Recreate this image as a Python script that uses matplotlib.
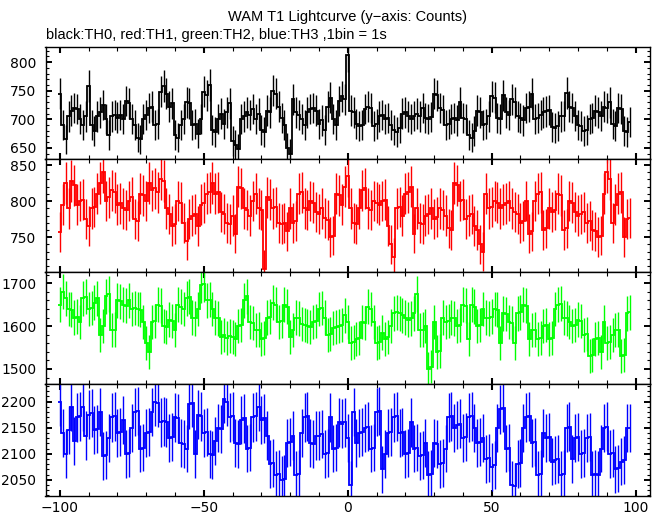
import numpy as np
import matplotlib
matplotlib.use("Agg")
import matplotlib.pyplot as plt
from matplotlib.ticker import MultipleLocator

plt.rcParams["font.family"] = ["DejaVu Sans"]

# counts per 1 s bin, time from -100 s
t_start = -100

th0 = [
    745, 690, 665, 705, 715, 720, 718, 700, 690, 705,
    758, 690, 680, 705, 712, 725, 700, 672, 705, 708,
    703, 708, 700, 732, 728, 700, 690, 668, 665, 700,
    708, 720, 722, 690, 692, 748, 758, 745, 722, 728,
    672, 668, 690, 700, 730, 728, 690, 692, 675, 700,
    748, 742, 760, 682, 678, 700, 710, 692, 712, 728,
    662, 655, 648, 700, 705, 712, 708, 718, 700, 710,
    682, 678, 715, 712, 750, 745, 722, 702, 690, 650,
    640, 735, 712, 708, 700, 690, 712, 718, 720, 715,
    692, 698, 682, 722, 738, 700, 690, 732, 740, 735,
    812, 715, 712, 692, 688, 690, 718, 722, 720, 688,
    692, 705, 708, 700, 702, 690, 682, 678, 685, 710,
    712, 705, 700, 706, 710, 705, 720, 702, 700, 704,
    745, 742, 720, 716, 690, 692, 700, 702, 698, 730,
    702, 700, 672, 668, 680, 715, 712, 690, 692, 705,
    740, 738, 702, 700, 742, 712, 708, 735, 730, 705,
    702, 698, 720, 722, 745, 700, 702, 708, 712, 714,
    716, 686, 684, 688, 705, 706, 746, 722, 720, 706,
    690, 688, 680, 682, 700, 702, 715, 712, 706, 722,
    720, 730, 692, 688, 720, 718, 680, 678, 695,
]

th1 = [
    757, 795, 825, 790, 828, 822, 795, 800, 802, 775,
    765, 790, 792, 810, 825, 840, 800, 805, 815, 812,
    795, 797, 790, 788, 800, 805, 775, 772, 810, 808,
    800, 825, 815, 818, 812, 830, 828, 790, 782, 765,
    768, 800, 798, 770, 745, 775, 780, 782, 765, 795,
    798, 810, 812, 825, 810, 812, 785, 782, 770, 768,
    780, 755, 820, 818, 790, 788, 780, 800, 810, 790,
    788, 706, 805, 802, 790, 792, 770, 768, 770, 758,
    790, 770, 772, 810, 812, 790, 788, 800, 798, 785,
    782, 790, 776, 774, 750, 752, 810, 808, 795, 820,
    835, 790, 770, 768, 790, 815, 818, 790, 788, 800,
    798, 795, 800, 802, 765, 740, 722, 790, 792, 780,
    810, 812, 820, 755, 790, 770, 768, 780, 782, 790,
    775, 778, 790, 788, 780, 762, 760, 825, 822, 800,
    802, 775, 780, 782, 765, 760, 740, 730, 810, 790,
    792, 800, 798, 790, 795, 797, 800, 790, 785, 782,
    770, 772, 800, 755, 758, 800, 810, 812, 760, 762,
    790, 785, 788, 810, 808, 760, 762, 800, 798, 785,
    780, 782, 785, 770, 772, 760, 758, 750, 752, 810,
    840, 830, 770, 795, 810, 812, 750, 775, 776,
]

th2 = [
    1650, 1680, 1665, 1640, 1638, 1620, 1622, 1610, 1665, 1668,
    1640, 1642, 1655, 1665, 1580, 1600, 1670, 1675, 1590, 1592,
    1660, 1658, 1650, 1648, 1660, 1640, 1642, 1640, 1638, 1610,
    1560, 1540, 1610, 1612, 1650, 1648, 1600, 1598, 1615, 1612,
    1590, 1650, 1645, 1640, 1665, 1668, 1620, 1618, 1640, 1695,
    1698, 1660, 1662, 1640, 1620, 1618, 1575, 1580, 1572, 1576,
    1575, 1570, 1600, 1602, 1660, 1670, 1610, 1608, 1590, 1592,
    1570, 1572, 1620, 1622, 1655, 1650, 1610, 1612, 1650, 1645,
    1575, 1590, 1620, 1618, 1605, 1602, 1600, 1598, 1610, 1612,
    1640, 1642, 1620, 1580, 1582, 1595, 1598, 1600, 1602, 1625,
    1610, 1560, 1562, 1570, 1572, 1610, 1608, 1645, 1640, 1610,
    1560, 1562, 1585, 1570, 1575, 1600, 1630, 1632, 1630, 1625,
    1620, 1615, 1618, 1630, 1675, 1590, 1592, 1600, 1500, 1505,
    1610, 1540, 1542, 1620, 1610, 1612, 1620, 1618, 1600, 1602,
    1650, 1648, 1570, 1650, 1645, 1600, 1602, 1640, 1620, 1618,
    1622, 1640, 1638, 1560, 1630, 1628, 1610, 1608, 1560, 1630,
    1632, 1650, 1648, 1570, 1590, 1592, 1570, 1572, 1600, 1602,
    1570, 1572, 1640, 1650, 1652, 1620, 1618, 1610, 1600, 1602,
    1615, 1612, 1580, 1582, 1530, 1532, 1570, 1572, 1540, 1610,
    1560, 1562, 1580, 1590, 1592, 1530, 1532, 1630, 1632,
]

th3 = [
    2200, 2140, 2100, 2145, 2190, 2125, 2170, 2172, 2190, 2135,
    2175, 2178, 2145, 2148, 2180, 2095, 2098, 2130, 2170, 2172,
    2140, 2142, 2165, 2100, 2102, 2150, 2180, 2182, 2110, 2112,
    2140, 2142, 2180, 2200, 2198, 2160, 2162, 2160, 2130, 2132,
    2170, 2168, 2120, 2118, 2110, 2195, 2198, 2100, 2175, 2172,
    2140, 2142, 2100, 2098, 2125, 2150, 2148, 2205, 2200, 2170,
    2172, 2120, 2118, 2165, 2168, 2110, 2112, 2170, 2172, 2190,
    2165, 2168, 2135, 2080, 2082, 2060, 2062, 2050, 2052, 2120,
    2122, 2135, 2060, 2062, 2140, 2170, 2172, 2120, 2118, 2135,
    2135, 2138, 2100, 2102, 2170, 2110, 2112, 2160, 2158, 2160,
    2130, 2040, 2180, 2120, 2140, 2142, 2150, 2152, 2110, 2112,
    2180, 2182, 2070, 2100, 2140, 2142, 2170, 2172, 2140, 2142,
    2100, 2102, 2160, 2110, 2112, 2095, 2098, 2120, 2060, 2062,
    2120, 2118, 2080, 2082, 2110, 2170, 2172, 2150, 2155, 2158,
    2130, 2132, 2170, 2172, 2150, 2120, 2122, 2130, 2090, 2092,
    2075, 2078, 2150, 2185, 2188, 2110, 2112, 2040, 2038, 2080,
    2082, 2150, 2170, 2172, 2120, 2122, 2060, 2062, 2140, 2130,
    2132, 2085, 2088, 2090, 2060, 2062, 2150, 2152, 2090, 2130,
    2132, 2100, 2102, 2130, 2132, 2060, 2062, 2060, 2110, 2150,
    2152, 2100, 2102, 2070, 2072, 2085, 2088, 2150, 2150,
]

curves = [th0, th1, th2, th3]
colors = ["black", "#ff0000", "#00ff00", "#0000ff"]
ylims = [(630, 826), (702, 858), (1464, 1727), (2019, 2233)]
majors = [50, 50, 100, 50]
minors = [10, 10, 20, 10]

W, H = 662, 515
fig = plt.figure(figsize=(W / 100, H / 100), dpi=100)

left, right = 45.5, 650
edges_px = [47.3, 159.3, 271.7, 384.4, 496]

for i, (counts, color) in enumerate(zip(curves, colors)):
    top_px, bot_px = edges_px[i], edges_px[i + 1]
    ax = fig.add_axes([left / W, 1 - bot_px / H, (right - left) / W, (bot_px - top_px) / H])

    y = np.array(counts, dtype=float)
    x = np.arange(t_start, t_start + len(y))
    err = np.sqrt(y)
    bins = np.append(x - 0.5, x[-1] + 0.5)

    ax.stairs(y, bins, baseline=None, color=color, lw=1.3)
    ax.errorbar(x, y, yerr=err, fmt="none", ecolor=color, elinewidth=1.0, capsize=0)

    ax.set_xlim(-105, 105)
    ax.set_ylim(*ylims[i])
    ax.xaxis.set_major_locator(MultipleLocator(50))
    ax.xaxis.set_minor_locator(MultipleLocator(10))
    ax.yaxis.set_major_locator(MultipleLocator(majors[i]))
    ax.yaxis.set_minor_locator(MultipleLocator(minors[i]))

    ax.tick_params(axis="x", which="major", direction="in", length=4.2, width=1.5,
                   top=True, bottom=True, labelsize=10, pad=3.5)
    ax.tick_params(axis="x", which="minor", direction="in", length=2.6, width=0.8,
                   top=True, bottom=True)
    ax.tick_params(axis="y", which="major", direction="in", length=4.0, width=1.4,
                   left=True, right=True, labelsize=10, pad=6.5)
    ax.tick_params(axis="y", which="minor", direction="in", length=2.0, width=0.8,
                   left=True, right=True)
    for sp in ax.spines.values():
        sp.set_linewidth(1.0)
    if i < 3:
        ax.tick_params(axis="x", labelbottom=False)

fig.text(347.75 / W, 1 - 17 / H, "WAM T1 Lightcurve (y\u2212axis: Counts)",
         ha="center", va="center", fontsize=10.5, family="Liberation Sans")
fig.text(46 / W, 1 - 35 / H, "black:TH0, red:TH1, green:TH2, blue:TH3 ,1bin = 1s",
         ha="left", va="center", fontsize=10.5, family="Liberation Sans")

fig.savefig("out.png", dpi=100)
